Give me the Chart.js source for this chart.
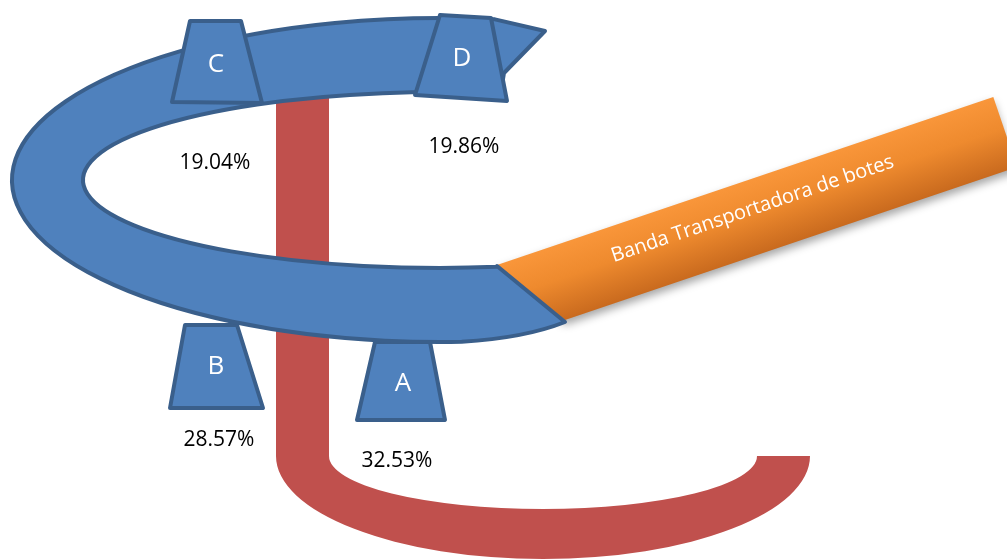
<!DOCTYPE html>
<html>
<head>
<meta charset="utf-8">
<script src="https://cdn.jsdelivr.net/npm/chart.js@4.4.1/dist/chart.umd.min.js"></script>
<style>
  html, body { margin: 0; padding: 0; background: #fff; }
  #wrap { width: 1007px; height: 560px; position: relative; }
</style>
</head>
<body>
<div id="wrap"><canvas id="myChart"></canvas></div>
<script>
// stations on the belt and the share handled by each
const stations = ['A', 'B', 'C', 'D'];
const shares = [32.53, 28.57, 19.04, 19.86];
const beltTitle = 'Banda Transportadora de botes';

// where each share label sits (canvas units)
const labelPos = [[397, 461], [219, 440], [215, 163], [464, 147]];
// station hoppers, corners clockwise from top-left
const hoppers = [
  [[375, 342], [430, 342], [445, 420], [357, 420]],
  [[185, 325], [237, 325], [263, 408], [170, 408]],
  [[190, 21], [241, 21], [262, 103], [172, 102]],
  [[440, 15], [491, 18], [507, 101], [415, 95]]
];
const hopperText = [[403, 384], [216, 367], [216, 65], [462, 59]];

const blue = '#4F81BD', blueEdge = '#3A5F8B', red = '#C0504D';

const diagramPlugin = {
  id: 'diagram',
  beforeDatasetsDraw(chart) {
    const ctx = chart.ctx;
    const xs = chart.scales.x, ys = chart.scales.y;
    const px = v => xs.getPixelForValue(v);
    const py = v => ys.getPixelForValue(v);
    const sx = xs.getPixelForValue(1) - xs.getPixelForValue(0);
    const sy = ys.getPixelForValue(1) - ys.getPixelForValue(0);

    ctx.save();

    // return line (red)
    ctx.fillStyle = red;
    ctx.beginPath();
    ctx.moveTo(px(276), py(95));
    ctx.lineTo(px(329), py(95));
    ctx.lineTo(px(329), py(456));
    ctx.ellipse(px(543), py(456), 214 * sx, 53 * sy, 0, Math.PI, 0, true);
    ctx.lineTo(px(810), py(456));
    ctx.ellipse(px(543), py(456), 267 * sx, 103 * sy, 0, 0, Math.PI, false);
    ctx.closePath();
    ctx.fill();

    // orange conveyor
    const ang = Math.atan2(97 - 265, 993 - 497);
    const dx = Math.cos(ang), dy = Math.sin(ang);
    const nx = -dy, ny = dx;
    const len = 524, wid = 74;
    const x0 = 497, y0 = 265;
    ctx.save();
    ctx.shadowColor = 'rgba(0,0,0,0.35)';
    ctx.shadowBlur = 8;
    ctx.shadowOffsetY = 5;
    const g = ctx.createLinearGradient(px(x0), py(y0), px(x0 + nx * wid), py(y0 + ny * wid));
    g.addColorStop(0, '#F9963A');
    g.addColorStop(0.45, '#EE8A2E');
    g.addColorStop(1, '#C96A1E');
    ctx.fillStyle = g;
    ctx.beginPath();
    ctx.moveTo(px(x0), py(y0));
    ctx.lineTo(px(x0 + dx * len), py(y0 + dy * len));
    ctx.lineTo(px(x0 + dx * len + nx * wid), py(y0 + dy * len + ny * wid));
    ctx.lineTo(px(565), py(320));
    ctx.closePath();
    ctx.fill();
    ctx.restore();

    ctx.save();
    ctx.translate(px(x0 + dx * 260 + nx * 29), py(y0 + dy * 260 + ny * 29));
    ctx.rotate(ang);
    ctx.fillStyle = '#fff';
    ctx.font = '20px "Open Sans"';
    ctx.textAlign = 'center';
    ctx.textBaseline = 'middle';
    ctx.fillText(beltTitle, 0, 0);
    ctx.restore();

    const drawHopper = i => {
      const c = hoppers[i];
      ctx.beginPath();
      ctx.moveTo(px(c[0][0]), py(c[0][1]));
      for (let k = 1; k < c.length; k++) ctx.lineTo(px(c[k][0]), py(c[k][1]));
      ctx.closePath();
      ctx.fillStyle = blue;
      ctx.fill();
      ctx.lineWidth = 4;
      ctx.lineJoin = 'round';
      ctx.strokeStyle = blueEdge;
      ctx.stroke();
      ctx.fillStyle = '#fff';
      ctx.font = '26px "Open Sans"';
      ctx.textAlign = 'center';
      ctx.textBaseline = 'middle';
      ctx.fillText(stations[i], px(hopperText[i][0]), py(hopperText[i][1]));
    };

    // A and B hang under the belt
    drawHopper(0);
    drawHopper(1);

    // blue loop with arrow head at the top end
    const cx = px(440), cy = py(180);
    ctx.beginPath();
    ctx.moveTo(px(545), py(31));
    ctx.ellipse(cx, cy, 428 * sx, 162 * sy, 0, -1.442, 1.52, true);
    ctx.quadraticCurveTo(px(525), py(338), px(565), py(322));
    ctx.lineTo(px(497), py(266));
    ctx.ellipse(cx, cy, 357 * sx, 88 * sy, 0, 1.41, 2 * Math.PI - 1.40, false);
    ctx.lineTo(px(504), py(73));
    ctx.closePath();
    ctx.fillStyle = blue;
    ctx.fill();
    ctx.lineWidth = 4;
    ctx.lineJoin = 'round';
    ctx.strokeStyle = blueEdge;
    ctx.stroke();

    drawHopper(2);
    drawHopper(3);

    ctx.restore();
  },
  afterDatasetsDraw(chart) {
    const ctx = chart.ctx;
    const meta = chart.getDatasetMeta(0);
    ctx.save();
    ctx.fillStyle = '#000';
    ctx.font = '21px "Open Sans"';
    ctx.textAlign = 'center';
    ctx.textBaseline = 'middle';
    meta.data.forEach((pt, i) => {
      ctx.fillText(shares[i].toFixed(2) + '%', pt.x, pt.y);
    });
    ctx.restore();
  }
};

const config = {
  type: 'scatter',
  data: {
    datasets: [{
      label: 'Participación',
      data: stations.map((s, i) => ({ x: labelPos[i][0], y: labelPos[i][1] })),
      pointRadius: 0,
      pointHoverRadius: 0
    }]
  },
  options: {
    responsive: true,
    maintainAspectRatio: false,
    animation: false,
    layout: { padding: 0 },
    events: [],
    scales: {
      x: { type: 'linear', min: 0, max: 1007, display: false },
      y: { type: 'linear', min: 0, max: 560, reverse: true, display: false }
    },
    plugins: {
      legend: { display: false },
      tooltip: { enabled: false }
    }
  },
  plugins: [diagramPlugin]
};

new Chart(document.getElementById('myChart').getContext('2d'), config);
</script>
</body>
</html>
